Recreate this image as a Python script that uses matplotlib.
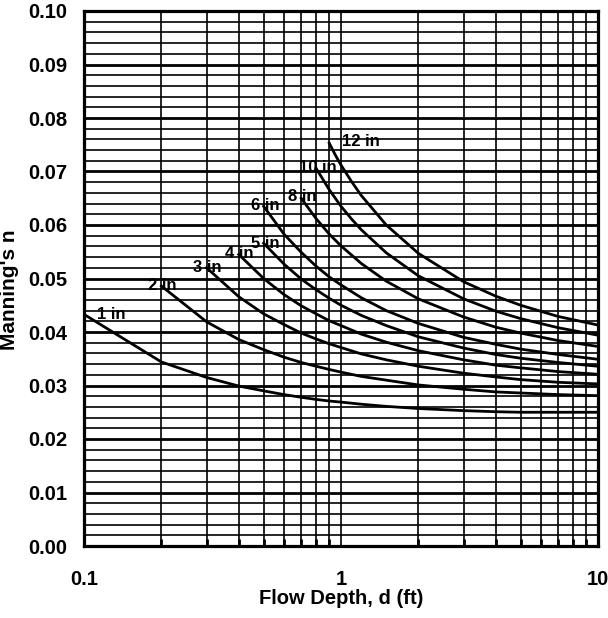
import matplotlib
matplotlib.use("Agg")
import matplotlib.pyplot as plt
import numpy as np
from matplotlib.ticker import FixedLocator, NullFormatter, FixedFormatter

plt.rcParams['font.family'] = ['Liberation Sans', 'DejaVu Sans']
plt.rcParams['font.weight'] = 'bold'

# ======== data =============================
sizes = ['1 in', '2 in', '3 in', '4 in', '5 in', '6 in', '8 in', '10 in', '12 in']

d_1in = [0.1, 0.2, 0.3, 0.4, 0.5, 0.6, 0.7, 0.8, 0.9, 1, 1.2, 1.5, 2, 3, 4, 5, 7, 10]
n_1in = [0.0433, 0.0344, 0.0315, 0.0299, 0.0290, 0.0283, 0.0278, 0.0274, 0.0271, 0.0269,
         0.0265, 0.0261, 0.0257, 0.0253, 0.0251, 0.0250, 0.0250, 0.0250]

d_2in = [0.2, 0.3, 0.4, 0.5, 0.6, 0.7, 0.8, 0.9, 1, 1.2, 1.5, 2, 3, 4, 5, 7, 10]
n_2in = [0.0486, 0.0419, 0.0386, 0.0367, 0.0353, 0.0343, 0.0336, 0.0330, 0.0325,
         0.0317, 0.0310, 0.0301, 0.0293, 0.0288, 0.0286, 0.0283, 0.0281]

d_3in = [0.3, 0.4, 0.5, 0.6, 0.7, 0.8, 0.9, 1, 1.2, 1.5, 2, 3, 4, 5, 7, 10]
n_3in = [0.0520, 0.0466, 0.0434, 0.0414, 0.0398, 0.0387, 0.0378, 0.0371,
         0.0359, 0.0348, 0.0336, 0.0323, 0.0316, 0.0311, 0.0306, 0.0303]

d_4in = [0.4, 0.5, 0.6, 0.7, 0.8, 0.9, 1, 1.2, 1.5, 2, 3, 4, 5, 7, 10]
n_4in = [0.0545, 0.0500, 0.0470, 0.0449, 0.0434, 0.0421, 0.0412,
         0.0396, 0.0381, 0.0365, 0.0348, 0.0338, 0.0333, 0.0326, 0.0321]

d_5in = [0.5, 0.6, 0.7, 0.8, 0.9, 1, 1.2, 1.5, 2, 3, 4, 5, 7, 10]
n_5in = [0.0566, 0.0527, 0.0499, 0.0479, 0.0463, 0.0450,
         0.0431, 0.0412, 0.0391, 0.0370, 0.0358, 0.0351, 0.0343, 0.0336]

d_6in = [0.5, 0.6, 0.7, 0.8, 0.9, 1, 1.2, 1.5, 2, 3, 4, 5, 7, 10]
n_6in = [0.0635, 0.0583, 0.0549, 0.0523, 0.0503, 0.0488,
         0.0464, 0.0440, 0.0416, 0.0390, 0.0377, 0.0368, 0.0358, 0.0349]

d_8in = [0.7, 0.8, 0.9, 1, 1.2, 1.5, 2, 3, 4, 5, 7, 10]
n_8in = [0.0650, 0.0612, 0.0583, 0.0561, 0.0528, 0.0495,
         0.0462, 0.0428, 0.0409, 0.0398, 0.0384, 0.0373]

d_10in = [0.8, 0.9, 1, 1.1, 1.2, 1.5, 2, 3, 4, 5, 7, 10]
n_10in = [0.0706, 0.0666, 0.0635, 0.0611, 0.0591, 0.0548,
          0.0505, 0.0462, 0.0439, 0.0425, 0.0408, 0.0394]

d_12in = [0.9, 0.95, 1, 1.1, 1.2, 1.5, 2, 3, 4, 5, 7, 10]
n_12in = [0.0753, 0.0731, 0.0712, 0.0681, 0.0655, 0.0600,
          0.0547, 0.0494, 0.0467, 0.0450, 0.0429, 0.0413]

# label anchors (left edge of text, centre height)
label_d = [0.112, 0.177, 0.265, 0.353, 0.445, 0.445, 0.62, 0.686, 1.01]
label_n = [0.0433, 0.0487, 0.0521, 0.0546, 0.0566, 0.0636, 0.0653, 0.0708, 0.0756]

x_ticks = [0.1, 1, 10]
x_ticklabels = ['0.1', '1', '10']
y_ticks = np.arange(0, 0.1001, 0.01)

curves_d = [d_1in, d_2in, d_3in, d_4in, d_5in, d_6in, d_8in, d_10in, d_12in]
curves_n = [n_1in, n_2in, n_3in, n_4in, n_5in, n_6in, n_8in, n_10in, n_12in]

fig = plt.figure(figsize=(6.08, 6.18), dpi=100)
ax = fig.add_axes([84/608, 1 - 546/618, 514/608, 535/618])

ax.set_xscale('log')
ax.set_xlim(0.1, 10)
ax.set_ylim(0, 0.10)

# grid
for yv in np.arange(0.002, 0.1, 0.002):
    major = abs(yv / 0.01 - round(yv / 0.01)) < 1e-6
    ax.axhline(yv, color='black', lw=2.0 if major else 1.2, zorder=1)
for dec in [0.1, 1]:
    for k in range(2, 10):
        ax.axvline(dec * k, color='black', lw=1.2, zorder=1)
ax.axvline(1, color='black', lw=1.2, zorder=1)

for dd, nn in zip(curves_d, curves_n):
    ax.plot(dd, nn, color='black', lw=2.0, zorder=3)

for s, xd, yn in zip(sizes, label_d, label_n):
    ax.text(xd, yn, s, fontsize=12, fontweight='bold', ha='left', va='center', zorder=4)

for sp in ax.spines.values():
    sp.set_linewidth(2.3)

ax.xaxis.set_major_locator(FixedLocator(x_ticks))
ax.xaxis.set_major_formatter(FixedFormatter(x_ticklabels))
minor = [dec * k for dec in [0.1, 1] for k in range(2, 10)]
ax.xaxis.set_minor_locator(FixedLocator(minor))
ax.xaxis.set_minor_formatter(NullFormatter())
ax.tick_params(axis='x', which='major', length=0, pad=17, labelsize=14.5)
ax.tick_params(axis='x', which='minor', direction='in', length=5, width=2)
ax.set_yticks(y_ticks)
ax.set_yticklabels(['%.2f' % v for v in y_ticks])
ax.tick_params(axis='y', length=0, pad=12, labelsize=14.5)

fig.text(341/608, 1 - 598/618, 'Flow Depth, d (ft)', fontsize=14.5,
         fontweight='bold', ha='center', va='center')
fig.text(10/608, 1 - 290/618, "Manning's n", rotation=90, fontsize=15,
         fontweight='bold', ha='center', va='center')

fig.savefig('out.png', dpi=100)
